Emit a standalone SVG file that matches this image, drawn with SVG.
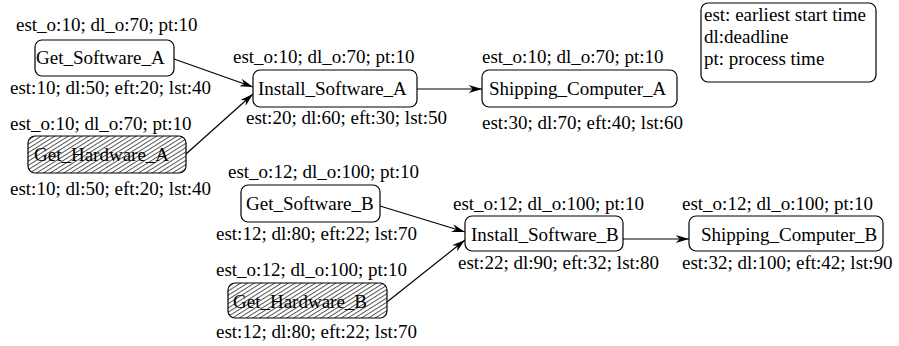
<svg xmlns="http://www.w3.org/2000/svg" width="899" height="346" viewBox="0 0 899 346">
<style>
text{font-family:"Liberation Serif","Times New Roman",serif;font-size:19px;fill:#000}
.box{fill:#fff;stroke:#000;stroke-width:1.2}
.hatch{fill:url(#hatch);stroke:#000;stroke-width:1.2}
.edge{stroke:#000;stroke-width:1.2;fill:none;marker-end:url(#arr)}
</style>
<defs>
<pattern id="hatch" width="8" height="3.6" patternUnits="userSpaceOnUse" patternTransform="rotate(-32)">
<rect width="8" height="3.6" fill="#fff"/>
<line x1="0" y1="0.5" x2="8" y2="0.5" stroke="#222" stroke-width="0.8"/>
</pattern>
<marker id="arr" viewBox="0 0 10 6" refX="10" refY="3" markerWidth="14" markerHeight="8" markerUnits="userSpaceOnUse" orient="auto">
<path d="M0,0 L10,3 L0,6 L3,3 z" fill="#000"/>
</marker>
</defs>
<g id="connectors">
<line class="edge" x1="174" y1="59" x2="253" y2="87"/>
<line class="edge" x1="186" y1="154" x2="253" y2="94"/>
<line class="edge" x1="417" y1="89" x2="482" y2="89"/>
<line class="edge" x1="380" y1="206" x2="465" y2="232"/>
<line class="edge" x1="387" y1="302" x2="465" y2="240"/>
<line class="edge" x1="623" y1="239" x2="689" y2="239"/>
</g>
<g id="get_software_a">
<text x="16" y="31">est_o:10; dl_o:70; pt:10</text>
<rect class="box" x="35" y="40" width="139" height="36" rx="7"/>
<text x="36" y="64">Get_Software_A</text>
<text x="10" y="94">est:10; dl:50; eft:20; lst:40</text>
</g>
<g id="get_hardware_a">
<text x="10" y="130">est_o:10; dl_o:70; pt:10</text>
<rect class="hatch" x="28" y="136" width="158" height="37" rx="7"/>
<text x="34" y="161">Get_Hardware_A</text>
<text x="10" y="195">est:10; dl:50; eft:20; lst:40</text>
</g>
<g id="install_software_a">
<text x="233" y="63">est_o:10; dl_o:70; pt:10</text>
<rect class="box" x="253" y="70" width="164" height="37" rx="7"/>
<text x="258" y="95">Install_Software_A</text>
<text x="246" y="124">est:20; dl:60; eft:30; lst:50</text>
</g>
<g id="shipping_computer_a">
<text x="482" y="63">est_o:10; dl_o:70; pt:10</text>
<rect class="box" x="482" y="70" width="195" height="37" rx="7"/>
<text x="489" y="95">Shipping_Computer_A</text>
<text x="482" y="129">est:30; dl:70; eft:40; lst:60</text>
</g>
<g id="get_software_b">
<text x="228" y="178">est_o:12; dl_o:100; pt:10</text>
<rect class="box" x="241" y="185" width="139" height="37" rx="7"/>
<text x="246" y="210">Get_Software_B</text>
<text x="216" y="240">est:12; dl:80; eft:22; lst:70</text>
</g>
<g id="get_hardware_b">
<text x="216" y="276">est_o:12; dl_o:100; pt:10</text>
<rect class="hatch" x="228" y="283" width="159" height="35" rx="7"/>
<text x="233" y="308">Get_Hardware_B</text>
<text x="216" y="338">est:12; dl:80; eft:22; lst:70</text>
</g>
<g id="install_software_b">
<text x="453" y="210">est_o:12; dl_o:100; pt:10</text>
<rect class="box" x="465" y="216" width="158" height="35" rx="7"/>
<text x="471" y="241">Install_Software_B</text>
<text x="458" y="269">est:22; dl:90; eft:32; lst:80</text>
</g>
<g id="shipping_computer_b">
<text x="682" y="210">est_o:12; dl_o:100; pt:10</text>
<rect class="box" x="689" y="216" width="194" height="35" rx="7"/>
<text x="701" y="241">Shipping_Computer_B</text>
<text x="682" y="269">est:32; dl:100; eft:42; lst:90</text>
</g>
<g id="legend">
<rect class="box" x="701" y="3" width="175" height="79" rx="7"/>
<text x="704" y="21">est: earliest start time</text>
<text x="704" y="43">dl:deadline</text>
<text x="704" y="65">pt: process time</text>
</g>
</svg>
